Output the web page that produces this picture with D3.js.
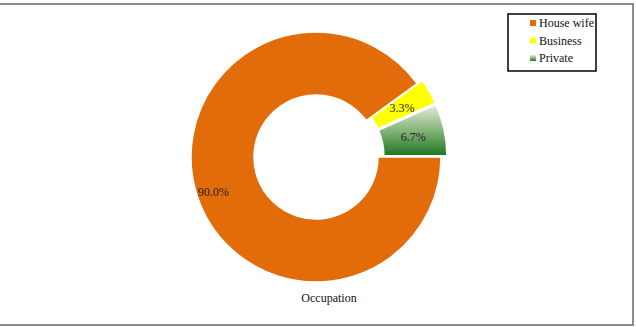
<!DOCTYPE html>
<html>
<head>
<meta charset="utf-8">
<script src="https://cdn.jsdelivr.net/npm/d3@7"></script>
<style>
  body { margin: 0; background: #fff; }
  svg { display: block; }
</style>
</head>
<body>
<script>
// chart data
var categories = ["House wife", "Business", "Private"];
var values = [90.0, 3.3, 6.7];
var labels = ["90.0%", "3.3%", "6.7%"];
var exploded = [false, true, true];
var title = "Occupation";

var width = 636, height = 327;
var cx = 316, cy = 157;
var outerR = 125, innerR = 62;
var explodeBy = 6;
var serif = "'Liberation Serif', 'Times New Roman', 'DejaVu Serif', serif";

var svg = d3.select("body")
    .append("svg")
    .attr("width", width)
    .attr("height", height);

// gradient for the green slice
var defs = svg.append("defs");
var grad = defs.append("linearGradient")
    .attr("id", "greenGrad")
    .attr("x1", 0).attr("y1", 0)
    .attr("x2", 0).attr("y2", 1);
grad.append("stop").attr("offset", "0%").attr("stop-color", "#e4ecdf");
grad.append("stop").attr("offset", "45%").attr("stop-color", "#8fbb84");
grad.append("stop").attr("offset", "100%").attr("stop-color", "#1f761f");

var colours = d3.scaleOrdinal()
    .domain(categories)
    .range(["#e36c0a", "#ffff00", "url(#greenGrad)"]);

// outer frame (left side sits off the page)
svg.append("rect")
    .attr("x", -6).attr("y", 4)
    .attr("width", 639).attr("height", 321)
    .attr("fill", "none")
    .attr("stroke", "#8c8c8c")
    .attr("stroke-width", 2);

var pie = d3.pie()
    .sort(null)
    .value((d) => d)
    .startAngle(Math.PI / 2)
    .endAngle(Math.PI / 2 + 2 * Math.PI);

var arc = d3.arc().innerRadius(innerR).outerRadius(outerR);
var labelArc = d3.arc().innerRadius(108).outerRadius(108);

var arcs = pie(values);

function offset(d, i) {
    if (!exploded[i]) return [0, 0];
    var mid = (d.startAngle + d.endAngle) / 2;
    return [Math.sin(mid) * explodeBy, -Math.cos(mid) * explodeBy];
}

var g = svg.append("g").attr("transform", "translate(" + cx + "," + cy + ")");

g.selectAll("path")
    .data(arcs)
    .enter()
    .append("path")
        .attr("d", arc)
        .attr("transform", (d, i) => "translate(" + offset(d, i) + ")")
        .attr("fill", (d, i) => colours(categories[i]))
        .attr("stroke", "#fff")
        .attr("stroke-width", 1.5);

g.selectAll("text.lbl")
    .data(arcs)
    .enter()
    .append("text")
        .attr("class", "lbl")
        .attr("x", (d, i) => {
            var c = exploded[i] ? arc.centroid(d) : labelArc.centroid(d);
            return c[0] + offset(d, i)[0];
        })
        .attr("y", (d, i) => {
            var c = exploded[i] ? arc.centroid(d) : labelArc.centroid(d);
            return c[1] + offset(d, i)[1] + 1;
        })
        .attr("dy", "0.35em")
        .attr("text-anchor", "middle")
        .style("font-family", serif)
        .style("font-size", "12px")
        .style("fill", "#222")
        .text((d, i) => labels[i]);

// title under the ring
svg.append("text")
    .attr("x", 329)
    .attr("y", 302)
    .attr("text-anchor", "middle")
    .style("font-family", serif)
    .style("font-size", "12px")
    .style("fill", "#111")
    .text(title);

// legend
var legend = svg.append("g").attr("transform", "translate(508,14)");
legend.append("rect")
    .attr("width", 88).attr("height", 57)
    .attr("fill", "#fff")
    .attr("stroke", "#000")
    .attr("stroke-width", 1.5);

var items = legend.selectAll("g.item")
    .data(categories)
    .enter()
    .append("g")
        .attr("class", "item")
        .attr("transform", (d, i) => "translate(22," + (9 + i * 17.5) + ")");
items.append("rect")
    .attr("x", 0).attr("y", -3)
    .attr("width", 6).attr("height", 6)
    .attr("fill", (d) => colours(d));
items.append("text")
    .attr("x", 9)
    .attr("y", 0)
    .attr("dy", "0.35em")
    .style("font-family", serif)
    .style("font-size", "12px")
    .style("fill", "#111")
    .text((d) => d);
</script>
</body>
</html>
